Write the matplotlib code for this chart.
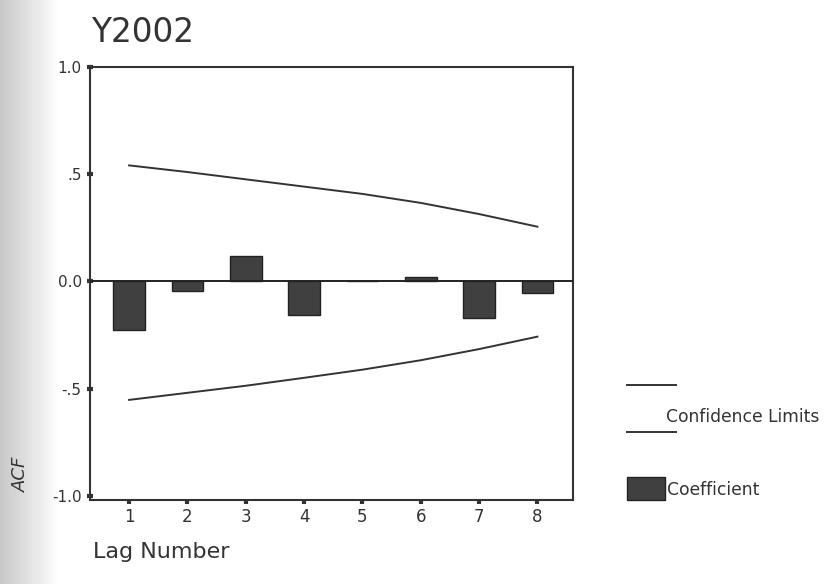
import matplotlib
matplotlib.use("Agg")
import matplotlib.pyplot as plt
import numpy as np

plt.rcParams['font.family'] = ['DejaVu Sans']

lags = [1, 2, 3, 4, 5, 6, 7, 8]
acf = [-0.229, -0.043, 0.116, -0.155, 0.0, 0.019, -0.173, -0.054]
upper_conf = [0.541, 0.510, 0.476, 0.442, 0.408, 0.366, 0.314, 0.255]
lower_conf = [-0.553, -0.520, -0.487, -0.450, -0.412, -0.368, -0.316, -0.258]
yticks = [-1.0, -0.5, 0.0, 0.5, 1.0]
yticklabels = ['-1.0', '-.5', '0.0', '.5', '1.0']

W, H = 824, 584
fig = plt.figure(figsize=(W / 100, H / 100), dpi=100)
fig.patch.set_facecolor('white')

# left shading of the scanned page
grad = np.linspace(0.78, 1.0, 60)
gimg = np.tile(grad, (10, 1))
bg = fig.add_axes([0, 0, 60 / W, 1], zorder=-5)
bg.imshow(gimg, cmap='gray', vmin=0, vmax=1, aspect='auto', extent=[0, 1, 0, 1])
bg.axis('off')

ax = fig.add_axes([90 / W, 1 - 500 / H, (573 - 90) / W, (500 - 67) / H])
ax.set_facecolor('white')

ax.bar(lags, acf, width=0.54, color='#404040', edgecolor='#222222', linewidth=1.0, zorder=3)
ax.plot(lags, upper_conf, color='#333333', linewidth=1.4, zorder=4)
ax.plot(lags, lower_conf, color='#333333', linewidth=1.4, zorder=4)
ax.axhline(0, color='#222222', linewidth=1.4, zorder=5)

ax.set_xlim(0.33, 8.61)
ax.set_ylim(-1.02, 1.0)
ax.set_yticks(yticks)
ax.set_yticklabels(yticklabels)
ax.set_xticks(lags)
ax.set_xticklabels([str(l) for l in lags])
for s in ax.spines.values():
    s.set_color('#333333')
    s.set_linewidth(1.5)
ax.tick_params(axis='y', direction='inout', length=4, width=3, color='#333333',
               labelsize=11, labelcolor='#333333', pad=4)
ax.tick_params(axis='x', direction='out', length=3, width=3, color='#333333',
               labelsize=12, labelcolor='#333333', pad=3)

fig.text(91 / W, 1 - 33 / H, 'Y2002', fontsize=23.5, color='#333333', va='center', ha='left')
fig.text(93 / W, 1 - 552 / H, 'Lag Number', fontsize=16, color='#333333', va='center', ha='left')
fig.text(21 / W, 1 - 474 / H, 'ACF', fontsize=13, color='#333333', va='center', ha='center',
         rotation=90, style='italic')

# legend
fig.add_artist(plt.Line2D([627 / W, 676 / W], [1 - 385 / H, 1 - 385 / H], color='#333333', linewidth=1.4))
fig.add_artist(plt.Line2D([627 / W, 676 / W], [1 - 432 / H, 1 - 432 / H], color='#333333', linewidth=1.4))
fig.text(666 / W, 1 - 417 / H, 'Confidence Limits', fontsize=12.3, color='#333333', va='center', ha='left')
fig.add_artist(plt.Rectangle((627 / W, 1 - 500 / H), 38 / W, 23 / H, facecolor='#404040',
                             edgecolor='#222222', linewidth=1.0, transform=fig.transFigure))
fig.text(667 / W, 1 - 490 / H, 'Coefficient', fontsize=12.3, color='#333333', va='center', ha='left')

fig.savefig('out.png', dpi=100)
